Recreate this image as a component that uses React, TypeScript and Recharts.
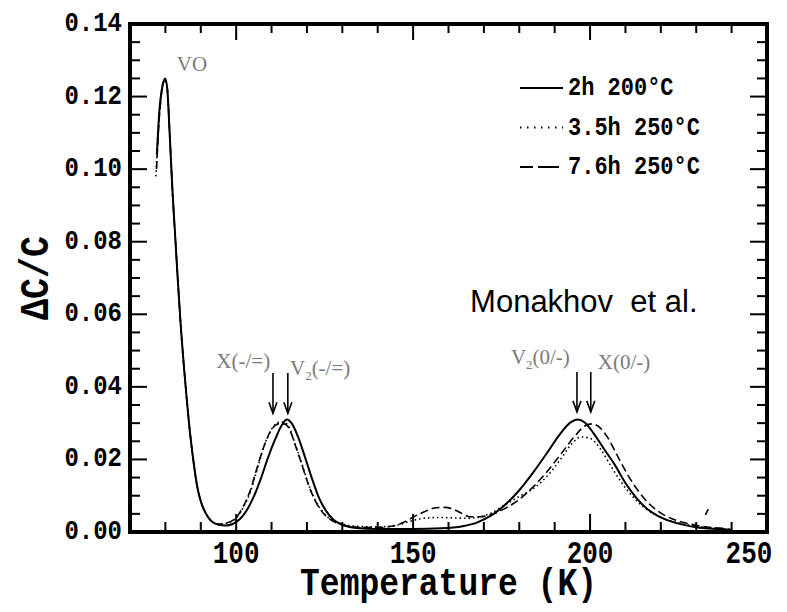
import React from 'react';
import { LineChart, Line, XAxis, YAxis, ReferenceLine, ReferenceDot } from 'recharts';

// ---- data (Temperature K, ΔC/C) ----
const solidSeries: number[][] = [
  [77.6, 0.104], [78.3, 0.116], [79.2, 0.123], [79.9, 0.125], [80.5, 0.1225], [81.2, 0.11],
  [82.0, 0.094], [82.8, 0.081], [83.6, 0.068], [84.4, 0.056], [85.2, 0.046], [86.0, 0.037],
  [87.0, 0.027], [88.0, 0.019], [89.0, 0.0125], [90.0, 0.0085], [91.5, 0.005], [93.0, 0.003],
  [95.0, 0.002], [97.0, 0.0018], [99.0, 0.0022], [101.0, 0.0035], [103.0, 0.006], [105.0, 0.0098],
  [107.0, 0.0148], [109.0, 0.0205], [111.0, 0.0255], [112.8, 0.0293], [114.3, 0.031], [115.8, 0.0298],
  [117.5, 0.0262], [119.5, 0.0205], [121.5, 0.0145], [123.5, 0.0092], [125.5, 0.0057], [127.5, 0.0034],
  [130.0, 0.002], [134.0, 0.0011], [140.0, 0.0008], [150.0, 0.0008], [158.0, 0.001], [164.0, 0.0016],
  [168.0, 0.0026], [172.0, 0.0045], [176.0, 0.0075], [180.0, 0.0115], [184.0, 0.0165], [188.0, 0.022],
  [191.5, 0.027], [194.5, 0.0302], [196.5, 0.031], [198.5, 0.0302], [201.0, 0.0272], [204.0, 0.0228],
  [207.0, 0.0185], [210.0, 0.0135], [213.0, 0.0095], [216.0, 0.0065], [219.0, 0.0045], [222.0, 0.0032],
  [226.0, 0.0021], [230.0, 0.0013], [236.0, 0.0008], [240.0, 0.0006],
];

const dottedSeries: number[][] = [
  [77.3, 0.098], [77.8, 0.108], [78.5, 0.118], [79.3, 0.1235], [79.9, 0.1245], [80.5, 0.1225],
  [81.2, 0.11], [82.0, 0.094], [82.8, 0.081], [83.6, 0.068], [84.4, 0.056], [85.2, 0.046],
  [86.0, 0.037], [87.0, 0.027], [88.0, 0.019], [89.0, 0.0125], [90.0, 0.0085], [91.5, 0.005],
  [93.0, 0.003], [95.0, 0.0022], [97.0, 0.0024], [100.0, 0.0038], [102.0, 0.0068], [104.0, 0.011],
  [106.0, 0.0175], [108.0, 0.024], [110.0, 0.0283], [112.0, 0.0302], [113.5, 0.0303], [115.0, 0.0288],
  [116.5, 0.0248], [118.5, 0.019], [120.5, 0.013], [122.5, 0.0085], [124.5, 0.0055], [127.0, 0.0033],
  [130.0, 0.0022], [135.0, 0.0015], [140.0, 0.0014], [145.0, 0.0018], [150.0, 0.0032], [153.0, 0.0038],
  [157.0, 0.004], [161.0, 0.0039], [165.0, 0.0038], [168.0, 0.004], [172.0, 0.0052], [176.0, 0.0075],
  [180.0, 0.0098], [184.0, 0.012], [188.0, 0.0155], [192.0, 0.0205], [195.0, 0.0245], [197.5, 0.0262],
  [200.0, 0.0258], [203.0, 0.0228], [206.0, 0.018], [209.0, 0.0135], [212.0, 0.0098], [215.0, 0.007],
  [218.0, 0.005], [221.0, 0.0036], [225.0, 0.0025], [230.0, 0.0016], [236.0, 0.001], [240.0, 0.0008],
];

const dashedSeries: number[][] = [
  [77.5, 0.1], [78.0, 0.11], [78.7, 0.119], [79.4, 0.124], [79.9, 0.1245], [80.5, 0.1225],
  [81.2, 0.11], [82.0, 0.094], [82.8, 0.081], [83.6, 0.068], [84.4, 0.056], [85.2, 0.046],
  [86.0, 0.037], [87.0, 0.027], [88.0, 0.019], [89.0, 0.0125], [90.0, 0.0085], [91.5, 0.005],
  [93.0, 0.003], [95.0, 0.0022], [97.0, 0.0024], [100.0, 0.004], [102.0, 0.007], [104.0, 0.0115],
  [106.0, 0.018], [108.0, 0.024], [110.0, 0.0282], [112.0, 0.0298], [113.5, 0.0298], [115.0, 0.0285],
  [116.5, 0.0245], [118.5, 0.0188], [120.5, 0.0128], [122.5, 0.0083], [124.5, 0.0053], [127.0, 0.0032],
  [130.0, 0.002], [135.0, 0.0013], [140.0, 0.0012], [145.0, 0.0018], [148.0, 0.003], [150.0, 0.0041],
  [153.0, 0.0055], [156.0, 0.0066], [159.0, 0.0068], [162.0, 0.006], [164.0, 0.005], [166.0, 0.0042],
  [169.0, 0.0042], [172.0, 0.0048], [176.0, 0.0065], [180.0, 0.009], [184.0, 0.0125], [188.0, 0.0168],
  [192.0, 0.0218], [195.5, 0.0262], [198.5, 0.0292], [200.5, 0.0298], [202.5, 0.029], [205.0, 0.026],
  [208.0, 0.0205], [211.0, 0.0152], [214.0, 0.0108], [217.0, 0.0075], [220.0, 0.0052], [223.0, 0.0037],
  [227.0, 0.0025], [232.0, 0.0015], [238.0, 0.001],
];

// stray short dash of the 7.6h curve near 233 K
const dashedFragment: number[][] = [[232.6, 0.0047], [233.4, 0.0063]];

const seriesNames = ['2h 200°C', '3.5h 250°C', '7.6h 250°C'];

const xTicks = [80, 90, 100, 110, 120, 130, 140, 150, 160, 170, 180, 190, 200, 210, 220, 230, 240, 250];
const xLabelTicks = [100, 150, 200, 250];
const yTicks = [
  0, 0.005, 0.01, 0.015, 0.02, 0.025, 0.03, 0.035, 0.04, 0.045, 0.05, 0.055, 0.06, 0.065, 0.07,
  0.075, 0.08, 0.085, 0.09, 0.095, 0.1, 0.105, 0.11, 0.115, 0.12, 0.125, 0.13, 0.135, 0.14,
];
const yLabelTicks = [0, 0.02, 0.04, 0.06, 0.08, 0.1, 0.12, 0.14];

// peak markers (arrows) : x position, top and tip values
const arrowMarks = [
  { x: 110.4, from: 0.0438, to: 0.0327 },
  { x: 114.6, from: 0.0438, to: 0.0327 },
  { x: 196.3, from: 0.0441, to: 0.0331 },
  { x: 200.2, from: 0.0441, to: 0.0331 },
];

// annotation labels anchored in data coordinates
const annotations = [
  { x: 87.5, y: 0.129, main: 'VO', sub: '', rest: '', anchor: 'middle' },
  { x: 109.6, y: 0.0471, main: 'X(-/=)', sub: '', rest: '', anchor: 'end' },
  { x: 115.2, y: 0.0452, main: 'V', sub: '2', rest: '(-/=)', anchor: 'start' },
  { x: 194.3, y: 0.0482, main: 'V', sub: '2', rest: '(0/-)', anchor: 'end' },
  { x: 202.2, y: 0.0468, main: 'X(0/-)', sub: '', rest: '', anchor: 'start' },
];
const authorNote = { x: 166.1, y: 0.0635, text: 'Monakhov  et al.' };

const toPoints = (s: number[][]) => s.map(([t, v]) => ({ t, v }));
const solidData = toPoints(solidSeries);
const dottedData = toPoints(dottedSeries);
const dashedData = toPoints(dashedSeries);
const fragmentData = toPoints(dashedFragment);

const MONO = '"Liberation Mono", "DejaVu Sans Mono", monospace';
const SERIF = '"Liberation Serif", "DejaVu Serif", serif';
const STRETCH = 1.18;

const isYMajor = (v: number) => yLabelTicks.some((m) => Math.abs(m - v) < 1e-7);

const MonoText = ({ x, y, size, anchor = 'start', rotate = 0, baseline, children }: any) => (
  <text
    x={0}
    y={0}
    transform={`translate(${x} ${y}) rotate(${rotate}) scale(1 ${STRETCH})`}
    textAnchor={anchor}
    dominantBaseline={baseline}
    fontFamily={MONO}
    fontWeight="bold"
    fontSize={size}
    fill="#000"
  >
    {children}
  </text>
);

const BottomTick = (props: any) => {
  const { x, y, payload } = props;
  const v = payload.value;
  const major = xLabelTicks.includes(v);
  return (
    <g>
      <line x1={x} y1={y} x2={x} y2={y - (major ? 18 : 10)} stroke="#000" strokeWidth={2} />
      {major && (
        <MonoText x={v === 250 ? x - 18 : x} y={y + 31} size={26} anchor="middle">
          {v}
        </MonoText>
      )}
    </g>
  );
};

const TopTick = (props: any) => {
  const { x, y, payload } = props;
  const major = xLabelTicks.includes(payload.value);
  return <line x1={x} y1={y} x2={x} y2={y + (major ? 16 : 9)} stroke="#000" strokeWidth={2} />;
};

const LeftTick = (props: any) => {
  const { x, y, payload } = props;
  const v = payload.value;
  const major = isYMajor(v);
  return (
    <g>
      <line x1={x} y1={y} x2={x + (major ? 17 : 10)} y2={y} stroke="#000" strokeWidth={2} />
      {major && (
        <MonoText x={x - 8} y={y + 7} size={24} anchor="end">
          {v.toFixed(2)}
        </MonoText>
      )}
    </g>
  );
};

const RightTick = (props: any) => {
  const { x, y, payload } = props;
  const major = isYMajor(payload.value);
  return <line x1={x} y1={y} x2={x - (major ? 17 : 10)} y2={y} stroke="#000" strokeWidth={2} />;
};

const ArrowShape = (props: any) => {
  const { x1, y1, x2, y2 } = props;
  if (x1 == null || y1 == null) return null;
  return (
    <g>
      <line x1={x1} y1={y1} x2={x2} y2={y2} stroke="#000" strokeWidth={1.6} />
      <polyline points={`${x2 - 4},${y2 - 11} ${x2},${y2} ${x2 + 4},${y2 - 11}`} fill="none" stroke="#000" strokeWidth={1.6} />
    </g>
  );
};

const makeAnnotation = (a: any) => (props: any) => {
  const { cx, cy } = props;
  if (cx == null) return null;
  return (
    <text x={cx} y={cy + 7} textAnchor={a.anchor} fontFamily={SERIF} fontSize={21} fill="#7a7a7a">
      <tspan>{a.main}</tspan>
      {a.sub && <tspan dy={5} fontSize={13}>{a.sub}</tspan>}
      {a.rest && <tspan dy={a.sub ? -5 : 0}>{a.rest}</tspan>}
    </text>
  );
};

const AuthorShape = (props: any) => {
  const { cx, cy } = props;
  if (cx == null) return null;
  return (
    <text x={cx} y={cy + 10} textAnchor="start" fontFamily='"Liberation Sans", Arial, sans-serif' fontSize={31} fill="#000" style={{ whiteSpace: 'pre' }}>
      {authorNote.text}
    </text>
  );
};

const legendDash = ['', '1.5 5.5', '13 5 8 0'];

const LegendBox = () => (
  <svg width={210} height={120} style={{ position: 'absolute', left: 515, top: 70 }}>
    {seriesNames.map((name, i) => {
      const cy = 18 + i * 39.5;
      return (
        <g key={name}>
          <line x1={5} y1={cy} x2={48} y2={cy} stroke="#000" strokeWidth={1.8} strokeDasharray={legendDash[i] || undefined} />
          <MonoText x={53} y={cy + 7} size={22}>
            {name}
          </MonoText>
        </g>
      );
    })}
  </svg>
);

const axisStyle = { stroke: '#000', strokeWidth: 4, strokeLinecap: 'square' as const };

export default function App() {
  return (
    <div style={{ position: 'absolute', left: 0, top: 0, width: 787, height: 612, background: '#fff' }}>
      <LineChart width={787} height={612} margin={{ top: 0, right: 0, bottom: 0, left: 0 }}>
        <XAxis
          xAxisId="b"
          type="number"
          dataKey="t"
          domain={[70, 250]}
          ticks={xTicks}
          interval={0}
          height={80}
          tickSize={0}
          tickMargin={0}
          tickLine={false}
          axisLine={axisStyle}
          tick={<BottomTick />}
          allowDataOverflow
          label={{
            content: (p: any) => {
              const vb = p.viewBox || {};
              return (
                <MonoText x={vb.x + vb.width / 2} y={vb.y + 63} size={33} anchor="middle">
                  Temperature (K)
                </MonoText>
              );
            },
          }}
        />
        <XAxis
          xAxisId="top"
          orientation="top"
          type="number"
          dataKey="t"
          domain={[70, 250]}
          ticks={xTicks}
          interval={0}
          height={24}
          tickSize={0}
          tickMargin={0}
          tickLine={false}
          axisLine={axisStyle}
          tick={<TopTick />}
          allowDataOverflow
        />
        <YAxis
          yAxisId="l"
          type="number"
          domain={[0, 0.14]}
          ticks={yTicks}
          interval={0}
          width={130}
          tickSize={0}
          tickMargin={0}
          tickLine={false}
          axisLine={axisStyle}
          tick={<LeftTick />}
          allowDataOverflow
          label={{
            content: (p: any) => {
              const vb = p.viewBox || {};
              return (
                <MonoText x={37} y={vb.y + vb.height / 2} size={35} anchor="middle" rotate={-90} baseline="central">
                  ΔC/C
                </MonoText>
              );
            },
          }}
        />
        <YAxis
          yAxisId="r"
          orientation="right"
          type="number"
          domain={[0, 0.14]}
          ticks={yTicks}
          interval={0}
          width={20}
          tickSize={0}
          tickMargin={0}
          tickLine={false}
          axisLine={axisStyle}
          tick={<RightTick />}
          allowDataOverflow
        />
        <Line xAxisId="b" yAxisId="l" data={solidData} dataKey="v" name={seriesNames[0]} type="monotone" stroke="#000" strokeWidth={2} dot={false} isAnimationActive={false} />
        <Line xAxisId="b" yAxisId="l" data={dottedData} dataKey="v" name={seriesNames[1]} type="monotone" stroke="#000" strokeWidth={1.6} strokeDasharray="1.5 3" dot={false} isAnimationActive={false} />
        <Line xAxisId="b" yAxisId="l" data={dashedData} dataKey="v" name={seriesNames[2]} type="monotone" stroke="#000" strokeWidth={1.6} strokeDasharray="8 4" dot={false} isAnimationActive={false} />
        <Line xAxisId="b" yAxisId="l" data={fragmentData} dataKey="v" name="fragment" legendType="none" type="linear" stroke="#000" strokeWidth={1.6} dot={false} isAnimationActive={false} />
        {arrowMarks.map((a, i) => (
          <ReferenceLine
            key={`arr${i}`}
            xAxisId="b"
            yAxisId="l"
            segment={[{ x: a.x, y: a.from }, { x: a.x, y: a.to }]}
            shape={(p: any) => <ArrowShape {...p} />}
            ifOverflow="visible"
          />
        ))}
        {annotations.map((a, i) => (
          <ReferenceDot key={`ann${i}`} xAxisId="b" yAxisId="l" x={a.x} y={a.y} r={0} shape={makeAnnotation(a)} ifOverflow="visible" />
        ))}
        <ReferenceDot xAxisId="b" yAxisId="l" x={authorNote.x} y={authorNote.y} r={0} shape={(p: any) => <AuthorShape {...p} />} ifOverflow="visible" />
      </LineChart>
      <LegendBox />
    </div>
  );
}
